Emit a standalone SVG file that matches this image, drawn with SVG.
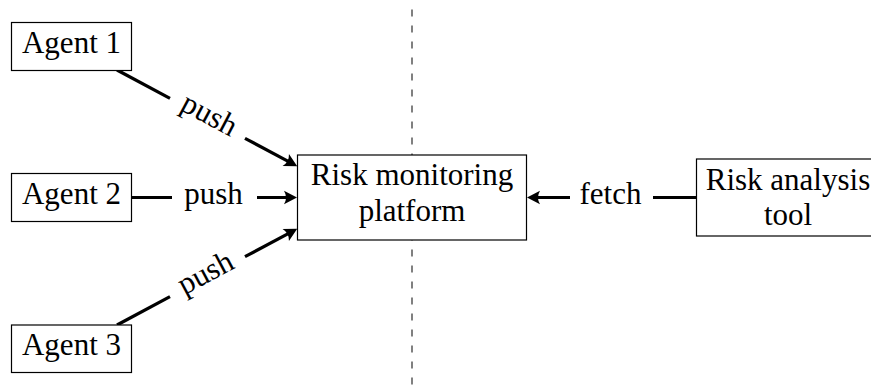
<svg xmlns="http://www.w3.org/2000/svg" width="871" height="385" viewBox="0 0 871 385">
  <defs>
    <style>
      .box { fill: #ffffff; stroke: #000000; stroke-width: 1.2; }
      .lbl { font-family: "Liberation Serif", "Times New Roman", serif; font-size: 31px; fill: #000000; text-anchor: middle; }
      .edge { stroke: #000000; stroke-width: 3.2; fill: none; }
      .divider { stroke: #808080; stroke-width: 2; stroke-dasharray: 7 9; }
    </style>
    <marker id="head" markerUnits="userSpaceOnUse" viewBox="-10 -10 20 20" markerWidth="20" markerHeight="20" refX="0" refY="0" orient="auto" overflow="visible">
      <path d="M 6.5 0 L -6.5 -6.8 Q -2.5 0 -6.5 6.8 Z" fill="#000000"/>
    </marker>
  </defs>

  <!-- vertical dashed divider, behind the nodes -->
  <line class="divider" x1="412" y1="9.5" x2="412" y2="385"/>

  <!-- connectors -->
  <g id="connectors">
    <!-- Agent 1 to platform -->
    <line class="edge" x1="117" y1="70" x2="170" y2="98.3"/>
    <line class="edge" x1="245" y1="138.3" x2="291.5" y2="163.1" marker-end="url(#head)"/>
    <text class="lbl" transform="translate(207.5,118.3) rotate(28.07)" x="0" y="5.5">push</text>

    <!-- Agent 2 to platform -->
    <line class="edge" x1="132" y1="197.5" x2="172" y2="197.5"/>
    <line class="edge" x1="257" y1="197.5" x2="290.5" y2="197.5" marker-end="url(#head)"/>
    <text class="lbl" x="213.5" y="203.5">push</text>

    <!-- Agent 3 to platform -->
    <line class="edge" x1="117" y1="325" x2="170" y2="296.7"/>
    <line class="edge" x1="245" y1="256.7" x2="291.5" y2="231.9" marker-end="url(#head)"/>
    <text class="lbl" transform="translate(207.5,276.7) rotate(-28.07)" x="0" y="5.5">push</text>

    <!-- analysis tool fetches from platform -->
    <line class="edge" x1="696.5" y1="197.5" x2="653" y2="197.5"/>
    <line class="edge" x1="570" y1="197.5" x2="533.5" y2="197.5" marker-end="url(#head)"/>
    <text class="lbl" x="610.5" y="203.5">fetch</text>
  </g>

  <g id="agent1">
    <rect class="box" x="11.5" y="22.5" width="120" height="48"/>
    <text class="lbl" x="71.5" y="53">Agent 1</text>
  </g>

  <g id="agent2">
    <rect class="box" x="11.5" y="173.5" width="120" height="48"/>
    <text class="lbl" x="71.5" y="204">Agent 2</text>
  </g>

  <g id="agent3">
    <rect class="box" x="11.5" y="325" width="120" height="47.5"/>
    <text class="lbl" x="71.5" y="355">Agent 3</text>
  </g>

  <g id="platform">
    <rect class="box" x="297.5" y="155" width="229" height="85"/>
    <text class="lbl" x="412" y="185">Risk monitoring</text>
    <text class="lbl" x="412" y="221">platform</text>
  </g>

  <g id="analysis-tool">
    <rect class="box" x="696.5" y="159" width="184" height="77"/>
    <text class="lbl" x="788" y="190">Risk analysis</text>
    <text class="lbl" x="788" y="225">tool</text>
  </g>
</svg>
